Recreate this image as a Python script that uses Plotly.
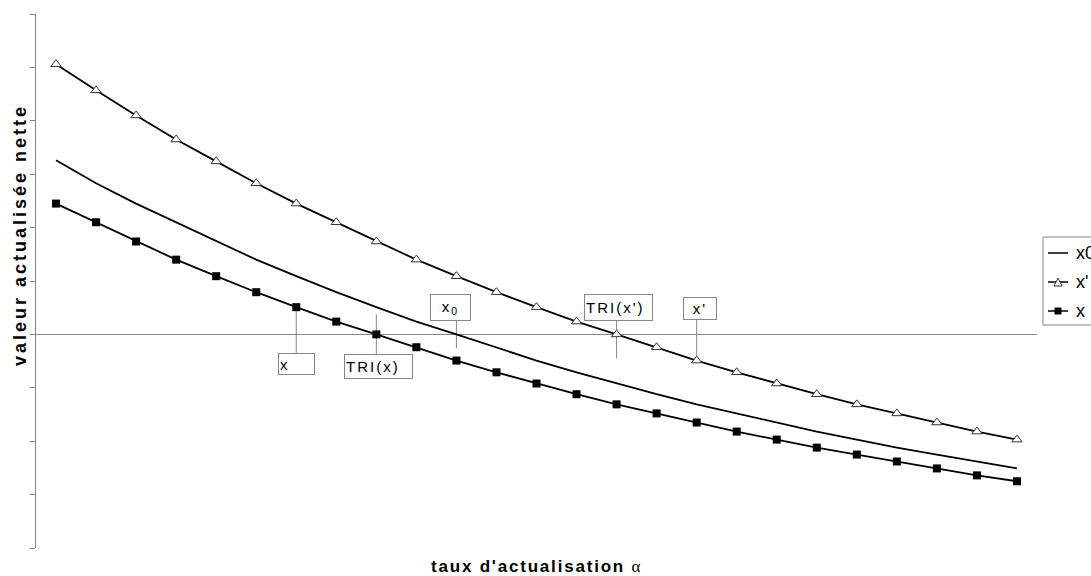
import plotly.graph_objects as go

# data (units = y tick steps)
idx = list(range(25))
x0_vals = [3.26, 2.83, 2.45, 2.10, 1.74, 1.40, 1.09, 0.79, 0.51, 0.24, 0.00, -0.24, -0.49,
           -0.71, -0.92, -1.12, -1.31, -1.48, -1.65, -1.82, -1.97, -2.12, -2.25, -2.38, -2.51]
xp_vals = [5.06, 4.57, 4.10, 3.65, 3.24, 2.83, 2.45, 2.10, 1.74, 1.40, 1.09, 0.79, 0.51,
           0.24, 0.00, -0.24, -0.49, -0.71, -0.92, -1.12, -1.31, -1.48, -1.65, -1.82, -1.97]
x_vals = [2.45, 2.10, 1.74, 1.40, 1.09, 0.79, 0.51, 0.24, 0.00, -0.24, -0.49, -0.71, -0.92,
          -1.12, -1.31, -1.48, -1.65, -1.82, -1.97, -2.12, -2.25, -2.38, -2.51, -2.64, -2.75]
series_names = ["x0", "x'", "x"]

# callouts: label, box center (x,y), box w,h, line x, line y0, y1, align
callouts = [
    ("x", 6.0, -0.56, 33, 18, 6, 0.51, -0.39, "left"),
    ("TRI(x)", 8.06, -0.61, 65, 21, 8, 0.37, -0.39, "left"),
    ("x<sub>0</sub>", 9.86, 0.51, 37, 23, 10, 0.28, -0.26, "center"),
    ("TRI(x')", 14.06, 0.51, 65, 23, 14, 0.28, -0.45, "left"),
    ("x'", 16.08, 0.48, 30, 19, 16, 0.28, -0.43, "center"),
]

FONT = "Liberation Sans, Arial, sans-serif"
GRAY = "#868686"
L, T, PW, PH = 36, 14, 1001, 534


def px(xp):
    return (xp - L) / PW


def py(yp):
    return (T + PH - yp) / PH


fig = go.Figure()
fig.add_trace(go.Scatter(x=idx, y=x0_vals, name=series_names[0], mode="lines",
                         line=dict(color="black", width=1.8)))
fig.add_trace(go.Scatter(x=idx, y=xp_vals, name=series_names[1], mode="lines+markers",
                         line=dict(color="black", width=1.8),
                         marker=dict(symbol="triangle-up", size=9, color="white",
                                     line=dict(color="#333333", width=1))))
fig.add_trace(go.Scatter(x=idx, y=x_vals, name=series_names[2], mode="lines+markers",
                         line=dict(color="black", width=1.8),
                         marker=dict(symbol="square", size=8, color="black")))

for lab, bx, by, w, h, lx, ly0, ly1, al in callouts:
    fig.add_shape(type="line", x0=lx, x1=lx, y0=ly0, y1=ly1, xref="x", yref="y",
                  line=dict(color=GRAY, width=1), layer="below")
    fig.add_annotation(x=bx, y=by, xref="x", yref="y",
                       text="<span style='letter-spacing:2px'>" + lab + "</span>",
                       showarrow=False,
                       width=w, height=h, align=al, valign="middle",
                       bgcolor="white", bordercolor=GRAY, borderwidth=1, borderpad=1,
                       font=dict(family=FONT, size=15, color="black"))

# axis titles
fig.add_annotation(x=px(20), y=py(235), xref="paper", yref="paper",
                   xanchor="center", yanchor="middle",
                   text="<span style='letter-spacing:3px'><b>valeur actualisée nette</b></span>",
                   textangle=-90, showarrow=False,
                   font=dict(family=FONT, size=18, color="black"))
fig.add_annotation(x=px(536), y=py(566), xref="paper", yref="paper",
                   xanchor="center", yanchor="middle",
                   text="<span style='letter-spacing:1.8px'><b>taux d'actualisation </b></span>"
                        "<span style='font-family:Liberation Serif'>α</span>",
                   showarrow=False, font=dict(family=FONT, size=17, color="black"))

# manual legend (partly cut by the right edge as in the reference)
fig.add_shape(type="rect", xref="paper", yref="paper", x0=px(1043), x1=px(1110),
              y0=py(325), y1=py(237), line=dict(color=GRAY, width=1), fillcolor="white")
rows = [253, 282, 311]
for name, yy in zip(series_names, rows):
    fig.add_shape(type="line", xref="paper", yref="paper", x0=px(1048), x1=px(1068),
                  y0=py(yy), y1=py(yy), line=dict(color="black", width=1.5))
    fig.add_annotation(x=px(1074), y=py(yy), xref="paper", yref="paper", text=name,
                       xanchor="left", yanchor="middle", showarrow=False,
                       font=dict(family=FONT, size=18, color="black"))
# legend marker symbols
fig.add_shape(type="path", xref="paper", yref="paper",
              path=f"M {px(1054)} {py(286)} L {px(1062)} {py(286)} L {px(1058)} {py(278)} Z",
              line=dict(color="#333333", width=1), fillcolor="white")
fig.add_shape(type="rect", xref="paper", yref="paper", x0=px(1054.5), x1=px(1061.5),
              y0=py(314.5), y1=py(307.5), line=dict(color="black", width=0), fillcolor="black")

fig.update_layout(
    width=1091, height=576,
    margin=dict(l=L, r=1091 - L - PW, t=T, b=576 - T - PH),
    paper_bgcolor="white", plot_bgcolor="white",
    showlegend=False,
    xaxis=dict(range=[-0.5, 24.5], showgrid=False, zeroline=False, showline=False,
               showticklabels=False, ticks=""),
    yaxis=dict(range=[-4, 6], dtick=1, showgrid=False, zeroline=True, zerolinecolor=GRAY,
               zerolinewidth=1, showline=True, linecolor=GRAY, linewidth=1,
               ticks="outside", ticklen=5, tickcolor=GRAY, showticklabels=False),
)

fig.write_html("out.html", config={"displayModeBar": False},
               post_script="document.body.style.margin='0';")
